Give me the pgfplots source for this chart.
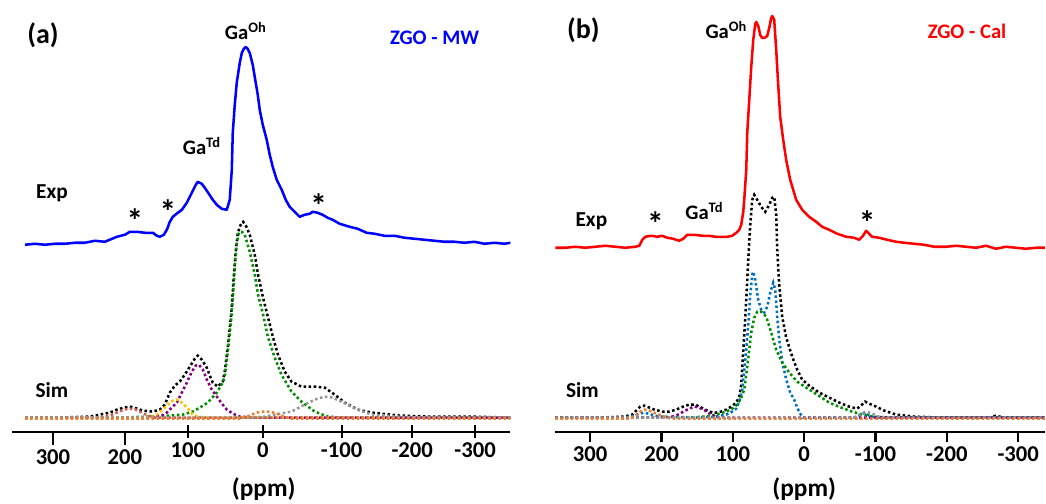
\documentclass[border=0pt]{standalone}
\usepackage{fontspec}
\setmainfont{Carlito}
\usepackage{pgfplots}
\pgfplotsset{compat=1.18}

\definecolor{expblue}{RGB}{0,0,255}
\definecolor{expred}{RGB}{255,0,0}
\definecolor{simgreen}{RGB}{0,140,0}
\definecolor{simpurple}{RGB}{128,0,128}
\definecolor{simgold}{RGB}{255,192,0}
\definecolor{simred}{RGB}{200,90,80}
\definecolor{simorange}{RGB}{237,125,49}
\definecolor{simgray}{RGB}{150,150,150}
\definecolor{simblue}{RGB}{0,112,192}

\newcommand\lab{\fontsize{16}{19}\selectfont\bfseries}
\newcommand\ticklab{\fontsize{17}{20}\selectfont\bfseries}
\newcommand\galab{\fontsize{15.5}{18}\selectfont\bfseries}
\newcommand\panlab{\fontsize{21}{24}\selectfont\bfseries}
\newcommand\astfont{\fontsize{25}{28}\selectfont\bfseries}

\pgfplotsset{
  nmr/.style={scale only axis, height=324pt, ymin=0, ymax=432, x dir=reverse,
    axis x line=bottom, axis y line=none,
    axis line style={-, line width=1.6pt, black},
    tick style={line width=1.6pt, black},
    tick align=outside, minor tick num=0,
    /pgf/number format/assume math mode=true,
    ticklabel style={font=\ticklab}},
  exp/.style={line width=1.9pt, no markers, line join=round},
  sim/.style={line width=1.9pt, no markers, dash pattern=on 1.9pt off 1.9pt},
}

\begin{document}
\begin{tikzpicture}
% ---------------- panel (a) ----------------
\begin{axis}[nmr, at={(9pt,-324pt)}, anchor=south west, width=374.25pt,
  xmin=-347.9, xmax=359.9,
  xtick={301.7,199.6}, xticklabels={300,200}, major tick length=9.75pt,
  extra x ticks={110.2,3.8,-108.2,-208.4,-297.7},
  extra x tick labels={100,0,-100,-200,-300},
  extra x tick style={tick align=center, major tick length=9.75pt}]
\addplot[exp, expblue] coordinates {
(341.4,187) (327.2,188) (313.1,187) (298.9,188) (284.7,188) (270.5,189) (256.3,189)
(242.2,191) (228.0,190) (210.9,195) (199.6,197) (192.5,200) (182.6,200) (171.2,199)
(159.9,199) (154.2,196) (149.9,195) (144.3,197) (140.0,202) (135.8,210) (131.5,215)
(124.4,219) (118.7,222) (111.7,229) (104.6,239) (98.9,247) (96.1,250) (90.4,248)
(86.1,244) (80.4,238) (74.8,232) (69.1,227) (62.0,223) (54.9,222) (50.7,232)
(47.8,262) (46.4,299) (43.6,327) (40.8,349) (36.5,369) (33.6,379) (30.8,383)
(28.0,385) (25.1,383) (22.3,379) (18.0,367) (15.2,355) (10.9,337) (8.1,322)
(3.8,307) (-1.8,292) (-6.1,277) (-10.3,265) (-16.0,252) (-23.1,242) (-28.8,232)
(-34.4,225) (-41.5,220) (-48.6,215) (-55.7,217) (-62.8,218) (-67.1,220) (-74.2,219)
(-81.2,217) (-88.3,214) (-95.4,212) (-105.4,208) (-119.5,205) (-130.9,203)
(-143.7,199) (-155.0,198) (-169.2,196) (-183.4,196) (-197.6,194) (-211.8,193)
(-226.0,192) (-240.1,191) (-254.3,190) (-268.5,190) (-282.7,189) (-296.8,190)
(-311.0,188) (-325.2,189) (-339.4,188) (-347.9,189)};
% total simulation
\addplot[sim, black] coordinates {
(341.4,14) (291.8,14) (249.3,15) (235.1,17) (220.9,19) (210.9,22) (201.0,24)
(192.5,25) (182.6,23) (174.1,21) (159.9,20) (149.9,22) (142.9,27) (135.8,39)
(128.7,46) (121.6,50) (114.5,57) (107.4,65) (100.3,73) (96.1,76) (90.4,72)
(83.3,64) (79.0,56) (74.8,49) (67.7,45) (60.6,50) (57.8,60) (53.1,87) (48.3,120)
(45.0,155) (42.2,180) (39.4,198) (36.5,205) (33.6,209) (31.8,210) (27.0,205)
(22.3,197) (15.2,177) (10.5,157) (3.4,134) (-3.7,114) (-10.8,94) (-17.8,77)
(-27.4,60) (-36.9,50) (-51.0,45) (-69.9,45) (-84.1,44) (-98.3,37) (-112.4,29)
(-130.9,22) (-150.7,19) (-190.5,16) (-233.0,15) (-289.8,15) (-347.9,14)};
\addplot[sim, simgreen] coordinates {
(341.4,14) (206.7,14) (164.1,15) (135.8,16) (117.3,17) (103.2,20) (93.2,24)
(81.9,29) (69.1,39) (60.6,49) (57.8,55) (53.1,82) (48.3,115) (45.0,148)
(43.6,165) (40.8,188) (38.0,198) (36.5,200) (33.6,200) (29.4,197) (22.3,180)
(15.2,157) (10.5,137) (3.4,117) (-3.7,94) (-13.2,74) (-22.7,57) (-36.9,40)
(-51.0,30) (-69.9,20) (-88.4,15) (-108.2,14) (-347.9,14)};
\addplot[sim, simpurple] coordinates {
(341.4,14) (164.1,14) (147.1,16) (140.0,19) (132.9,24) (125.8,29) (118.7,39)
(111.7,49) (104.6,60) (98.9,66) (94.6,67) (88.9,62) (83.3,52) (76.2,42)
(69.1,35) (62.0,28) (54.9,22) (46.4,18) (36.5,15) (15.2,14) (-347.9,14)};
\addplot[sim, simgold] coordinates {
(341.4,14) (171.2,14) (159.9,15) (154.2,17) (145.7,22) (138.6,27) (131.5,31)
(125.8,32) (120.2,30) (114.5,26) (108.8,22) (103.2,17) (96.1,15) (86.1,14)
(-347.9,14)};
\addplot[sim, simred] coordinates {
(341.4,14) (235.1,14) (220.9,16) (210.9,19) (201.0,22) (192.5,23) (184.0,22)
(175.5,19) (167.0,16) (157.0,14) (-347.9,14)};
\addplot[sim, simgray] coordinates {
(341.4,14) (22.3,14) (1.1,15) (-13.2,17) (-36.9,20) (-55.7,27) (-70.0,32)
(-84.1,35) (-95.0,34) (-107.8,30) (-130.9,22) (-150.7,17) (-190.5,15)
(-218.8,14) (-347.9,14)};
\addplot[sim, simorange] coordinates {
(341.4,13) (36.5,13) (22.3,16) (12.4,19) (2.4,20) (-6.1,20) (-16.0,18)
(-25.9,15) (-37.3,13) (-347.9,13)};
\end{axis}

% ---------------- panel (b) ----------------
\begin{axis}[nmr, at={(417pt,-324pt)}, anchor=south west, width=367.5pt,
  xmin=-337.5, xmax=348.7, major tick length=7.5pt,
  xtick={300,200,100,0,-100,-200,-300},
  xticklabels={300,200,100,0,-100,-200,-300}]
\addplot[exp, expred] coordinates {
(348.7,184) (334.7,184) (320.7,185) (306.7,184) (292.7,185) (278.7,186)
(264.7,185) (250.7,184) (236.7,185) (231.1,186) (226.9,192) (222.7,195)
(214.3,196) (205.9,195) (198.9,196) (191.9,194) (183.5,193) (175.1,191)
(169.5,193) (163.9,197) (154.1,197) (142.9,196) (133.1,196) (124.7,195)
(116.3,195) (107.8,195) (100.8,196) (95.2,199) (91.0,202) (88.2,207) (85.4,220)
(84.0,232) (81.2,262) (79.8,299) (77.0,332) (74.2,365) (71.4,392) (68.6,408)
(67.2,410) (64.4,406) (61.6,397) (58.8,394) (56.0,394) (51.8,396) (49.0,404)
(46.2,414) (44.8,416) (42.0,412) (39.2,382) (36.4,347) (33.6,315) (29.4,292)
(25.2,272) (19.6,252) (11.2,232) (2.8,222) (-7.0,215) (-16.8,210) (-25.2,205)
(-35.0,202) (-46.2,198) (-58.8,195) (-70.0,194) (-77.0,192) (-82.6,196)
(-86.8,201) (-91.0,198) (-95.2,195) (-105.0,194) (-116.3,192) (-128.9,190)
(-140.1,189) (-154.1,188) (-168.1,187) (-182.1,185) (-198.9,185) (-212.9,186)
(-226.9,185) (-240.9,184) (-254.9,186) (-268.9,183) (-282.9,185) (-296.9,184)
(-310.9,183) (-324.9,184) (-337.5,184)};
\addplot[sim, black] coordinates {
(348.7,14) (287.1,14) (252.1,15) (240.9,17) (235.3,21) (229.7,25) (224.1,26)
(217.1,24) (210.1,22) (198.9,20) (189.1,20) (179.3,22) (169.5,25) (161.1,27)
(152.7,27) (144.3,24) (135.9,21) (128.9,19) (123.3,19) (116.3,20) (109.2,22)
(102.2,25) (95.2,29) (91.0,35) (88.2,47) (86.8,65) (84.0,97) (81.2,132)
(78.4,172) (75.6,207) (72.8,232) (70.0,237) (65.8,232) (60.2,225) (54.6,220)
(49.0,227) (44.8,234) (42.0,235) (39.2,217) (37.8,182) (35.0,147) (30.8,115)
(25.2,94) (16.8,75) (9.8,62) (2.8,52) (-7.0,46) (-21.0,39) (-35.0,34)
(-49.0,29) (-63.0,25) (-74.2,23) (-79.8,26) (-85.4,30) (-91.0,28) (-100.8,25)
(-112.0,21) (-128.9,17) (-154.1,15) (-189.1,14) (-259.1,14) (-268.9,16)
(-278.7,14) (-337.5,14)};
\addplot[sim, simblue] coordinates {
(348.7,14) (252.1,14) (238.1,16) (231.1,18) (224.1,19) (214.3,17) (203.1,15)
(147.1,14) (123.3,15) (109.2,17) (100.8,20) (95.2,23) (91.0,30) (86.8,42)
(84.0,62) (81.2,82) (78.4,107) (75.6,137) (72.8,157) (71.4,160) (68.6,152)
(64.4,132) (60.2,122) (56.0,119) (51.8,125) (47.6,139) (43.4,149) (40.6,142)
(37.8,115) (35.0,92) (30.8,70) (25.2,52) (19.6,39) (14.0,32) (9.8,24) (5.6,18)
(1.4,14) (-70.0,14) (-79.8,17) (-85.4,19) (-91.0,16) (-99.4,14) (-337.5,14)};
\addplot[sim, simgreen] coordinates {
(348.7,14) (161.1,14) (140.1,15) (123.3,17) (109.2,20) (100.8,23) (93.8,27)
(88.2,34) (84.0,42) (79.8,65) (77.0,82) (74.2,99) (70.0,114) (65.8,120)
(60.2,120) (53.2,115) (46.2,99) (39.2,82) (30.8,69) (21.0,59) (9.8,50)
(-2.8,44) (-18.2,37) (-35.0,29) (-51.8,24) (-67.2,20) (-81.2,17) (-95.2,15)
(-119.0,14) (-337.5,14)};
\addplot[sim, simpurple] coordinates {
(348.7,14) (189.1,14) (179.3,16) (169.5,20) (161.1,23) (154.1,25) (147.1,24)
(138.7,21) (130.3,17) (121.9,14) (-337.5,14)};
\addplot[sim, simgray] coordinates {
(348.7,14) (-70.0,14) (-79.8,18) (-86.8,20) (-95.2,18) (-105.0,15) (-119.0,14)
(-337.5,14)};
\addplot[sim, simorange] coordinates {
(348.7,13) (245.1,13) (236.7,16) (229.7,20) (224.1,22) (217.1,21) (207.3,18)
(196.1,15) (186.3,13) (-337.5,13)};
\end{axis}

% ---------------- annotations (pixel grid of the figure) ----------------
\begin{scope}[x=0.75pt, y=-0.75pt]
\path[use as bounding box] (0,0) rectangle (1046,504);
% panel (a)
\node[font=\panlab] at (43,35) {(a)};
\node[font=\galab] at (246,31) {Ga\textsuperscript{Oh}};
\node[font=\galab] at (202,146) {Ga\textsuperscript{Td}};
\node[font=\fontsize{15.5}{18}\selectfont\bfseries, text=expblue] at (435,38) {ZGO - MW};
\node[font=\lab] at (52,193) {Exp};
\node[font=\lab] at (52,390) {Sim};
\node[font=\astfont, inner sep=0] at (135,221) {*};
\node[font=\astfont, inner sep=0] at (168,212) {*};
\node[font=\astfont, inner sep=0] at (319,206) {*};
\node[font=\fontsize{19}{22}\selectfont\bfseries, anchor=north, inner sep=0] at (264,478) {(ppm)};
% panel (b)
\node[font=\panlab] at (584,30) {(b)};
\node[font=\galab] at (727,30) {Ga\textsuperscript{Oh}};
\node[font=\galab] at (705,211) {Ga\textsuperscript{Td}};
\node[font=\fontsize{15.5}{18}\selectfont\bfseries, text=expred] at (968,31) {ZGO - Cal};
\node[font=\lab] at (592,221) {Exp};
\node[font=\lab] at (583,390) {Sim};
\node[font=\astfont, inner sep=0] at (656,224) {*};
\node[font=\astfont, inner sep=0] at (868,223) {*};
\node[font=\fontsize{19}{22}\selectfont\bfseries, anchor=north, inner sep=0] at (805,478) {(ppm)};
\end{scope}
\end{tikzpicture}
\end{document}
